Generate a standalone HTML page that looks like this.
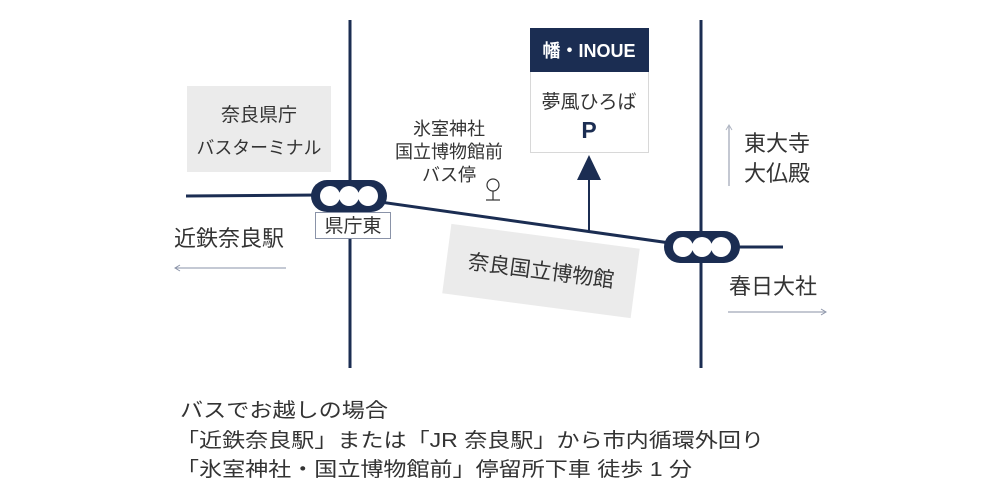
<!DOCTYPE html>
<html><head><meta charset="utf-8"><style>
html,body{margin:0;padding:0;background:#fff;width:1000px;height:500px;overflow:hidden}
svg{display:block}
text{font-family:"Liberation Sans","Noto Sans CJK JP",sans-serif;fill:#333}
</style></head><body>
<svg width="1000" height="500" viewBox="0 0 1000 500">
<rect x="187" y="86" width="144" height="86" fill="#ebebeb"/>
<text x="259" y="121" font-size="19" text-anchor="middle">奈良県庁</text>
<text x="259" y="154" font-size="18" text-anchor="middle" textLength="125" lengthAdjust="spacingAndGlyphs">バスターミナル</text>
<g transform="translate(541,271) rotate(7.5)">
<rect x="-95" y="-35" width="190" height="70" fill="#ebebeb"/>
<text x="0" y="7" font-size="21" text-anchor="middle">奈良国立博物館</text>
</g>
<g stroke="#1b2d52" fill="none">
<line x1="350" y1="20" x2="350" y2="368" stroke-width="3"/>
<line x1="701" y1="20" x2="701" y2="368" stroke-width="3"/>
<line x1="186" y1="196" x2="320" y2="195" stroke-width="3"/>
<line x1="380" y1="202" x2="670" y2="243" stroke-width="3"/>
<line x1="735" y1="247" x2="783" y2="247" stroke-width="3"/>
<line x1="589" y1="231" x2="589" y2="175" stroke-width="2"/>
</g>
<polygon points="589,155 577,180 601,180" fill="#1b2d52"/>
<rect x="311" y="180" width="76" height="32" rx="16" fill="#1b2d52"/>
<circle cx="330" cy="196" r="10" fill="#fff"/><circle cx="349" cy="196" r="10" fill="#fff"/><circle cx="368" cy="196" r="10" fill="#fff"/>
<rect x="664" y="231" width="76" height="32" rx="16" fill="#1b2d52"/>
<circle cx="683" cy="247" r="10" fill="#fff"/><circle cx="702" cy="247" r="10" fill="#fff"/><circle cx="721" cy="247" r="10" fill="#fff"/>
<rect x="315.5" y="212.5" width="75" height="26" fill="#fff" stroke="#8a93a8"/>
<text x="353" y="232" font-size="19" text-anchor="middle">県庁東</text>
<text x="449" y="135" font-size="18" text-anchor="middle">氷室神社</text>
<text x="449" y="158" font-size="18" text-anchor="middle">国立博物館前</text>
<text x="449" y="181" font-size="18" text-anchor="middle">バス停</text>
<circle cx="493" cy="185" r="6" fill="none" stroke="#333" stroke-width="1.2"/>
<line x1="493" y1="191" x2="493" y2="200" stroke="#333" stroke-width="1.2"/>
<line x1="486" y1="200" x2="500" y2="200" stroke="#333" stroke-width="1.2"/>
<rect x="530.5" y="28.5" width="118" height="124" fill="#fff" stroke="#d8d8d8"/>
<rect x="530" y="28" width="119" height="44" fill="#1b2d52"/>
<text x="589" y="57" font-size="18" font-weight="bold" text-anchor="middle" style="fill:#fff">幡・INOUE</text>
<text x="589" y="108" font-size="19" text-anchor="middle">夢風ひろば</text>
<text x="589" y="138" font-size="23" font-weight="bold" text-anchor="middle" style="fill:#1b2d52">P</text>
<text x="174" y="246" font-size="22">近鉄奈良駅</text>
<line x1="176" y1="268" x2="286" y2="268" stroke="#8a93a8" stroke-width="1"/>
<polyline points="180,265 175,268 180,271" fill="none" stroke="#8a93a8"/>
<text x="744" y="151" font-size="22">東大寺</text>
<text x="744" y="181" font-size="22">大仏殿</text>
<line x1="729" y1="126" x2="729" y2="186" stroke="#b0b6c3" stroke-width="1.5"/>
<polyline points="726,130 729,125 732,130" fill="none" stroke="#b0b6c3"/>
<text x="729" y="294" font-size="22">春日大社</text>
<line x1="728" y1="312" x2="825" y2="312" stroke="#b0b6c3" stroke-width="1.5"/>
<polyline points="821,309 826,312 821,315" fill="none" stroke="#8a93a8"/>
<text x="180" y="417" font-size="20" textLength="208" lengthAdjust="spacingAndGlyphs">バスでお越しの場合</text>
<text x="176" y="447" font-size="20" textLength="588" lengthAdjust="spacingAndGlyphs">「近鉄奈良駅」または「JR 奈良駅」から市内循環外回り</text>
<text x="176" y="476" font-size="20" textLength="516" lengthAdjust="spacingAndGlyphs">「氷室神社・国立博物館前」停留所下車 徒歩 1 分</text>
</svg>
</body></html>
